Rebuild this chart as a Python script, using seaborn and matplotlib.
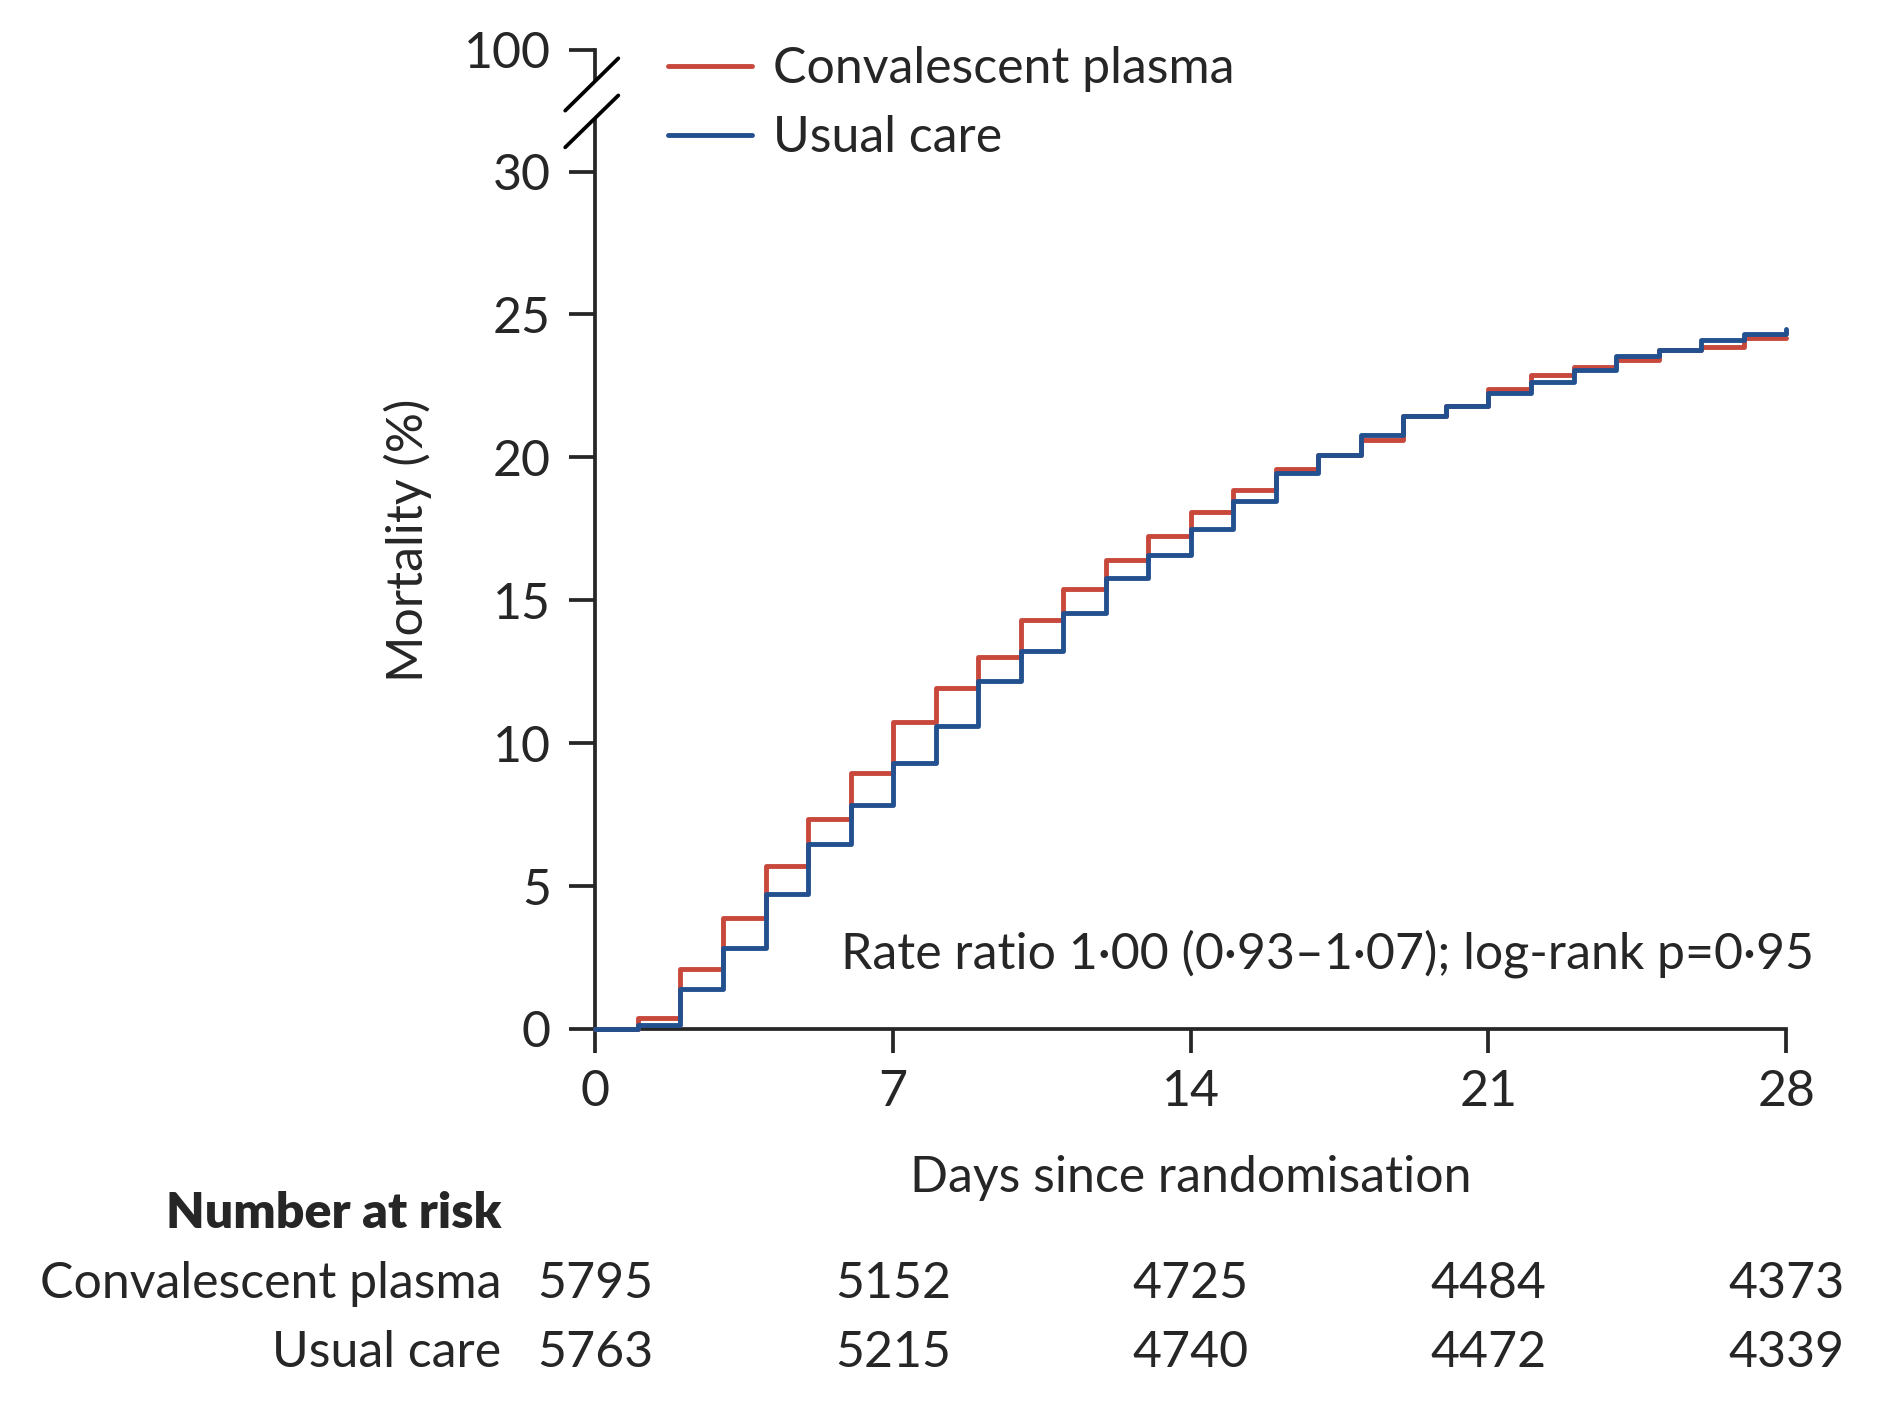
import matplotlib
matplotlib.use("Agg")
import matplotlib.pyplot as plt
import matplotlib.transforms as mtransforms
from matplotlib.lines import Line2D
import seaborn as sns
import pandas as pd

# Kaplan-Meier style mortality (%) per day, value holds from day d to d+1
days = list(range(0, 29))
plasma = [0, 0.38, 2.1, 3.9, 5.7, 7.36, 8.96, 10.74, 11.92, 13.0, 14.3, 15.4,
          16.4, 17.25, 18.1, 18.86, 19.6, 20.08, 20.6, 21.44, 21.8, 22.4,
          22.87, 23.15, 23.41, 23.75, 23.85, 24.16, 24.16]
usual = [0, 0.15, 1.4, 2.83, 4.73, 6.47, 7.82, 9.3, 10.6, 12.18, 13.23, 14.55,
         15.77, 16.6, 17.5, 18.48, 19.45, 20.08, 20.8, 21.44, 21.8, 22.24,
         22.63, 23.06, 23.53, 23.75, 24.1, 24.3, 24.5]

groups = ["Convalescent plasma", "Usual care"]
colors = ["#C8483B", "#23508F"]

risk_days = [0, 7, 14, 21, 28]
risk_plasma = [5795, 5152, 4725, 4484, 4373]
risk_usual = [5763, 5215, 4740, 4472, 4339]

x_ticks = [0, 7, 14, 21, 28]
y_ticks = [0, 5, 10, 15, 20, 25, 30]
annotation = "Rate ratio 1\u00b700 (0\u00b793\u20131\u00b707); log-rank p=0\u00b795"

df = pd.concat([
    pd.DataFrame({"day": days, "mortality": plasma, "group": groups[0]}),
    pd.DataFrame({"day": days, "mortality": usual, "group": groups[1]}),
])

sns.set_style("ticks")
plt.rcParams["font.family"] = ["Lato", "DejaVu Sans"]
fs = 36
lw_axis = 2.7

fig = plt.figure(figsize=(18.84, 14.14), dpi=100)
H = 1170.8  # reference height in layout units
W = 1560.0


def fy(y):
    return 1 - y / H


ax = fig.add_axes([493 / W, fy(852), 986 / W, (852 - 99) / H])
ax_top = fig.add_axes([493 / W, fy(66), 986 / W, (66 - 41.4) / H])

sns.lineplot(data=df, x="day", y="mortality", hue="group", palette=colors,
             hue_order=groups, drawstyle="steps-post", linewidth=3.5,
             legend=False, ax=ax)
for line in ax.lines:
    line.set_clip_on(False)
    line.set_zorder(5)

ax.set_xlim(0, 28)
ax.set_ylim(0, 31.82)
ax.set_xticks(x_ticks)
ax.set_yticks(y_ticks)
for a in (ax, ax_top):
    for s in ["top", "right"]:
        a.spines[s].set_visible(False)
    a.spines["left"].set_linewidth(lw_axis)
    a.tick_params(axis="y", length=19, width=lw_axis, labelsize=fs, pad=13)
ax.spines["bottom"].set_linewidth(lw_axis)
ax.tick_params(axis="x", length=17, width=lw_axis, labelsize=fs, pad=12)

ax_top.set_ylim(99, 100)
ax_top.set_yticks([100])
ax_top.set_xticks([])
ax_top.spines["bottom"].set_visible(False)
ax_top.patch.set_alpha(0)

ax.set_xlabel("Days since randomisation", fontsize=fs)
ax.xaxis.label.set_va("center")
ax.xaxis.set_label_coords(0.5, (852 - 975) / 753)
ax.set_ylabel("Mortality (%)", fontsize=fs)
ax.yaxis.label.set_va("center")
ax.yaxis.set_label_coords((338 - 493) / 986, (852 - 447) / 753)

ax.text(28.66, 2.62, annotation, ha="right", va="center", fontsize=fs)

# axis break marks
for y0, y1 in [(122, 79), (91.6, 48.3)]:
    fig.add_artist(Line2D([468 / W, 512 / W], [fy(y0), fy(y1)],
                          transform=fig.transFigure, color="black",
                          linewidth=lw_axis))

handles = [Line2D([], [], color=c, linewidth=3.5) for c in colors]
ax.legend(handles, groups, loc="upper left", bbox_to_anchor=(553 / W, fy(38.5)),
          bbox_transform=fig.transFigure, frameon=False, fontsize=fs,
          handlelength=1.69, handletextpad=0.41, labelspacing=0.46,
          borderaxespad=0, borderpad=0)

# number at risk table
trans = mtransforms.blended_transform_factory(ax.transData, fig.transFigure)
fig.text(415 / W, fy(1005), "Number at risk", ha="right", va="center",
         fontsize=fs, fontweight="heavy")
for label, vals, y in [(groups[0], risk_plasma, 1063), (groups[1], risk_usual, 1120)]:
    fig.text(415 / W, fy(y), label, ha="right", va="center", fontsize=fs)
    for d, v in zip(risk_days, vals):
        ax.text(d, fy(y), str(v), transform=trans, ha="center", va="center",
                fontsize=fs, clip_on=False)

fig.savefig("out.png", dpi=100)
